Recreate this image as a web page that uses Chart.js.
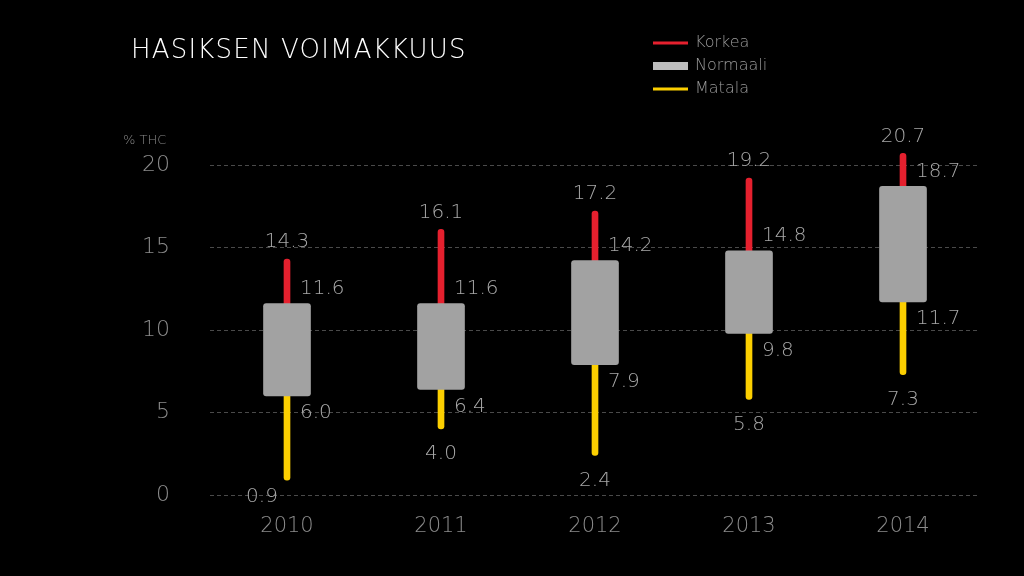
<!DOCTYPE html>
<html><head><meta charset="utf-8">
<script src="https://cdn.jsdelivr.net/npm/chart.js@4"></script>
<style>html,body{margin:0;padding:0;background:#000;}#wrap{width:1024px;height:576px;position:relative;}</style>
</head><body><div id="wrap"><canvas id="c" width="1024" height="576"></canvas></div>
<script>
const categories = ['2010','2011','2012','2013','2014'];
const highValues = [14.3, 16.1, 17.2, 19.2, 20.7];
const boxHigh = [11.6, 11.6, 14.2, 14.8, 18.7];
const boxLow = [6.0, 6.4, 7.9, 9.8, 11.7];
const lowValues = [0.9, 4.0, 2.4, 5.8, 7.3];
const yTicks = [0, 5, 10, 15, 20];
const seriesNames = ['Korkea', 'Normaali', 'Matala'];
const titleText = 'HASIKSEN VOIMAKKUUS';
const unitText = '% THC';

const RED = '#e5202e', GRAY = '#a2a2a2', YEL = '#fccf00';
const FONT = '"DejaVu Sans", sans-serif';

const fmt = v => v.toFixed(1);

const overlay = {
  id: 'overlay',
  afterDatasetsDraw(chart) {
    const ctx = chart.ctx, x = chart.scales.x, y = chart.scales.y;
    ctx.save();
    ctx.fillStyle = '#a8a8a8';
    ctx.font = '200 20px ' + FONT;
    ctx.textBaseline = 'middle';
    categories.forEach((c, i) => {
      const cx = x.getPixelForValue(i);
      ctx.textAlign = 'center';
      ctx.fillText(fmt(highValues[i]), cx, y.getPixelForValue(highValues[i]) - 17);
      ctx.textAlign = 'left';
      ctx.fillText(fmt(boxHigh[i]), cx + 13, y.getPixelForValue(boxHigh[i]) - 15);
      ctx.fillText(fmt(boxLow[i]), cx + 13, y.getPixelForValue(boxLow[i]) + 17);
      ctx.textAlign = 'center';
      if (i === 0) {
        ctx.fillText(fmt(lowValues[i]), cx - 25, y.getPixelForValue(lowValues[i]) + 17);
      } else {
        ctx.fillText(fmt(lowValues[i]), cx, y.getPixelForValue(lowValues[i]) + 25);
      }
    });
    // title
    ctx.fillStyle = '#ffffff';
    ctx.font = '200 26px ' + FONT;
    ctx.textAlign = 'left';
    ctx.letterSpacing = '1.2px';
    ctx.fillText(titleText, 131, 51);
    ctx.letterSpacing = '0px';
    // unit
    ctx.fillStyle = '#8a8a8a';
    ctx.font = '200 13px ' + FONT;
    ctx.fillText(unitText, 123, 141);
    // legend
    const ds = chart.data.datasets;
    ctx.font = '200 16px ' + FONT;
    [0, 1, 2].forEach((k, j) => {
      const d = ds.find(e => e.label === seriesNames[k]);
      const ly = 43 + j * 23;
      ctx.fillStyle = k === 1 ? '#bdbdbd' : d.backgroundColor;
      if (k === 1) ctx.fillRect(653, ly - 4, 35, 8);
      else ctx.fillRect(653, ly - 1.5, 35, 3);
      ctx.fillStyle = '#9a9a9a';
      ctx.fillText(seriesNames[k], 695, ly);
    });
    ctx.restore();
  }
};

new Chart(document.getElementById('c'), {
  type: 'bar',
  data: {
    labels: categories,
    datasets: [
      { label: seriesNames[1], data: categories.map((c,i)=>[boxLow[i], boxHigh[i]]), backgroundColor: GRAY,
        barThickness: 47, borderRadius: 3, borderSkipped: false, grouped: false, order: 0, clip: false },
      { label: seriesNames[0], data: categories.map((c,i)=>[boxHigh[i] - 0.5, highValues[i]]), backgroundColor: RED,
        barThickness: 6, borderRadius: 3, borderSkipped: false, grouped: false, order: 1, clip: false },
      { label: seriesNames[2], data: categories.map((c,i)=>[lowValues[i], boxLow[i] + 0.5]), backgroundColor: YEL,
        barThickness: 6, borderRadius: 3, borderSkipped: false, grouped: false, order: 2, clip: false }
    ]
  },
  options: {
    responsive: false,
    animation: false,
    layout: { padding: { left: 0, top: 165, right: 44, bottom: 0 } },
    plugins: { legend: { display: false }, tooltip: { enabled: false } },
    scales: {
      x: {
        offset: true,
        grid: { display: false, drawTicks: false },
        border: { display: false },
        ticks: { color: '#8c8c8c', font: { family: FONT, size: 21, weight: '200' }, padding: 19 },
        afterFit(s) { s.height = 81; }
      },
      y: {
        min: 0, max: 20,
        afterBuildTicks(s) { s.ticks = yTicks.map(v => ({ value: v })); },
        grid: { color: '#4a4a4a', lineWidth: 1, drawTicks: false },
        border: { display: false, dash: [4, 3] },
        ticks: { color: '#8c8c8c', font: { family: FONT, size: 22, weight: '200' }, padding: 40 },
        afterFit(s) { s.width = 210; }
      }
    }
  },
  plugins: [overlay]
});
</script>
</body></html>
